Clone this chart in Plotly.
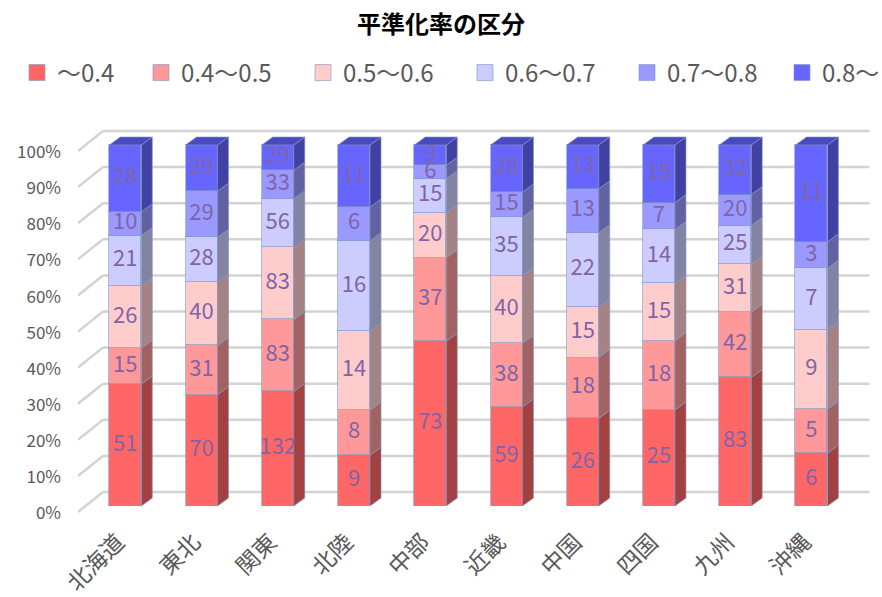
import plotly.graph_objects as go
import numpy as np

# ---------------- data ----------------
regions = ["北海道", "東北", "関東", "北陸", "中部", "近畿", "中国", "四国", "九州", "沖縄"]
series_names = ["～0.4", "0.4～0.5", "0.5～0.6", "0.6～0.7", "0.7～0.8", "0.8～"]
s_lt04 = [51, 70, 132, 9, 73, 59, 26, 25, 83, 6]
s_04_05 = [15, 31, 83, 8, 37, 38, 18, 18, 42, 5]
s_05_06 = [26, 40, 83, 14, 20, 40, 15, 15, 31, 9]
s_06_07 = [21, 28, 56, 16, 15, 35, 22, 14, 25, 7]
s_07_08 = [10, 29, 33, 6, 6, 15, 13, 7, 20, 3]
s_ge08 = [28, 29, 29, 11, 9, 28, 13, 15, 32, 11]
y_tick_vals = [0, 0.1, 0.2, 0.3, 0.4, 0.5, 0.6, 0.7, 0.8, 0.9, 1.0]
y_tick_text = ["0%", "10%", "20%", "30%", "40%", "50%", "60%", "70%", "80%", "90%", "100%"]
title_text = "平準化率の区分"

# ---------------- style ----------------
front_colors = ["#FF6666", "#FF9999", "#FFCCCC", "#CCCCFF", "#9999FF", "#6666FF"]
side_colors = ["#A34141", "#A36262", "#A38383", "#8383A3", "#6262A3", "#4141A3"]
top_color = "#4A4AC0"
edge_color = "rgba(130,150,195,0.65)"
label_color = "#8064A8"
grid_color = "#D3D3D3"
text_grey = "#595959"
FONT = "Noto Sans CJK JP"

W, H = 882, 597
ML, MR, MT, MB = 78, 12, 125, 75
px_x = 76.24          # pixels per category
x0_px = 125.3         # pixel of first bar centre
px_y = 361.0          # pixels per 100%
y0_px = 506.0         # pixel of 0% on bar fronts
x_lo = (ML - x0_px) / px_x
x_hi = x_lo + (W - ML - MR) / px_x
y_hi = (y0_px - MT) / px_y
y_lo = y_hi - (H - MT - MB) / px_y

bar_w = 32 / px_x
dx = 11 / px_x
dy = 8 / px_y
wall_front = -6 / px_y
wall_back = 14 / px_y
wall_back_x = (103 - x0_px) / px_x
wall_right_x = (869.5 - x0_px) / px_x

series = [s_lt04, s_04_05, s_05_06, s_06_07, s_07_08, s_ge08]
vals = np.array(series, dtype=float)
frac = vals / vals.sum(axis=0)
tops = np.cumsum(frac, axis=0)
bottoms = tops - frac
xs = np.arange(len(regions))

fig = go.Figure()

# front faces
for k, name in enumerate(series_names):
    fig.add_trace(go.Bar(
        x=xs, y=frac[k], width=bar_w, name=name, showlegend=False,
        marker=dict(color=front_colors[k], line=dict(color=edge_color, width=1)),
        hoverinfo="skip",
    ))

# side faces
for k in range(len(series_names)):
    px_, py_ = [], []
    for i in xs:
        xr = i + bar_w / 2
        b, t = bottoms[k, i], tops[k, i]
        px_ += [xr, xr + dx, xr + dx, xr, xr, None]
        py_ += [b, b + dy, t + dy, t, b, None]
    fig.add_trace(go.Scatter(
        x=px_, y=py_, mode="lines", fill="toself", fillcolor=side_colors[k],
        line=dict(color=edge_color, width=1), showlegend=False, hoverinfo="skip",
    ))

# top faces
px_, py_ = [], []
for i in xs:
    xl, xr = i - bar_w / 2, i + bar_w / 2
    t = tops[-1, i]
    px_ += [xl, xl + dx, xr + dx, xr, xl, None]
    py_ += [t, t + dy, t + dy, t, t, None]
fig.add_trace(go.Scatter(
    x=px_, y=py_, mode="lines", fill="toself", fillcolor=top_color,
    line=dict(color=edge_color, width=1), showlegend=False, hoverinfo="skip",
))

# data labels
lx, ly, lt = [], [], []
for k in range(len(series_names)):
    for i in xs:
        lx.append(i)
        ly.append((bottoms[k, i] + tops[k, i]) / 2)
        lt.append(str(series[k][i]))
fig.add_trace(go.Scatter(
    x=lx, y=ly, text=lt, mode="text", textposition="middle center",
    textfont=dict(family=FONT, size=22, color=label_color),
    showlegend=False, hoverinfo="skip",
))

# legend entries: first item, four evenly spaced middle items, last item
legend_ids = ["legend", "legend2", "legend2", "legend2", "legend2", "legend3"]
for k, name in enumerate(series_names):
    fig.add_trace(go.Scatter(
        x=[None], y=[None], mode="markers", name=name, legend=legend_ids[k],
        marker=dict(symbol="square", size=16, color=front_colors[k],
                    line=dict(color=edge_color, width=1)),
    ))

# walls / gridlines
shapes = []
for v in y_tick_vals:
    shapes.append(dict(type="line", xref="x", yref="y", layer="below",
                       x0=x_lo, y0=v + wall_front, x1=wall_back_x, y1=v + wall_back,
                       line=dict(color=grid_color, width=2.5)))
    shapes.append(dict(type="line", xref="x", yref="y", layer="below",
                       x0=wall_back_x, y0=v + wall_back, x1=wall_right_x, y1=v + wall_back,
                       line=dict(color=grid_color, width=2.5)))

legend_common = dict(orientation="h", xref="container", yref="container",
                     xanchor="left", y=1 - 73 / H, yanchor="middle",
                     font=dict(family=FONT, size=24, color=text_grey),
                     traceorder="normal", itemclick=False, itemdoubleclick=False,
                     tracegroupgap=0, itemwidth=30, bgcolor="rgba(0,0,0,0)")

fig.update_layout(
    width=W, height=H,
    margin=dict(l=ML, r=MR, t=MT, b=MB, autoexpand=False),
    paper_bgcolor="white", plot_bgcolor="white",
    barmode="stack", bargap=0,
    shapes=shapes,
    title=dict(text=title_text, x=0.5, xanchor="center", xref="container",
               y=1 - 25 / H, yanchor="middle", yref="container",
               font=dict(family=FONT, size=24, color="black", weight="bold")),
    legend=dict(legend_common, x=17 / W),
    legend2=dict(legend_common, x=141 / W, entrywidth=117),
    legend3=dict(legend_common, x=782 / W),
    xaxis=dict(range=[x_lo, x_hi], showgrid=False, zeroline=False, showline=False,
               automargin=False,
               tickmode="array", tickvals=xs - 0.1, ticktext=regions,
               tickangle=-45, ticks="", ticklabelstandoff=1,
               tickfont=dict(family=FONT, size=23, color=text_grey)),
    yaxis=dict(range=[y_lo, y_hi], showgrid=False, zeroline=False, showline=False,
               automargin=False,
               tickmode="array", tickvals=[v - 0.02 for v in y_tick_vals],
               ticktext=y_tick_text, ticks="", ticklabelstandoff=16,
               tickfont=dict(family=FONT, size=17, color=text_grey)),
    showlegend=True,
)

fig.write_html("out.html")
